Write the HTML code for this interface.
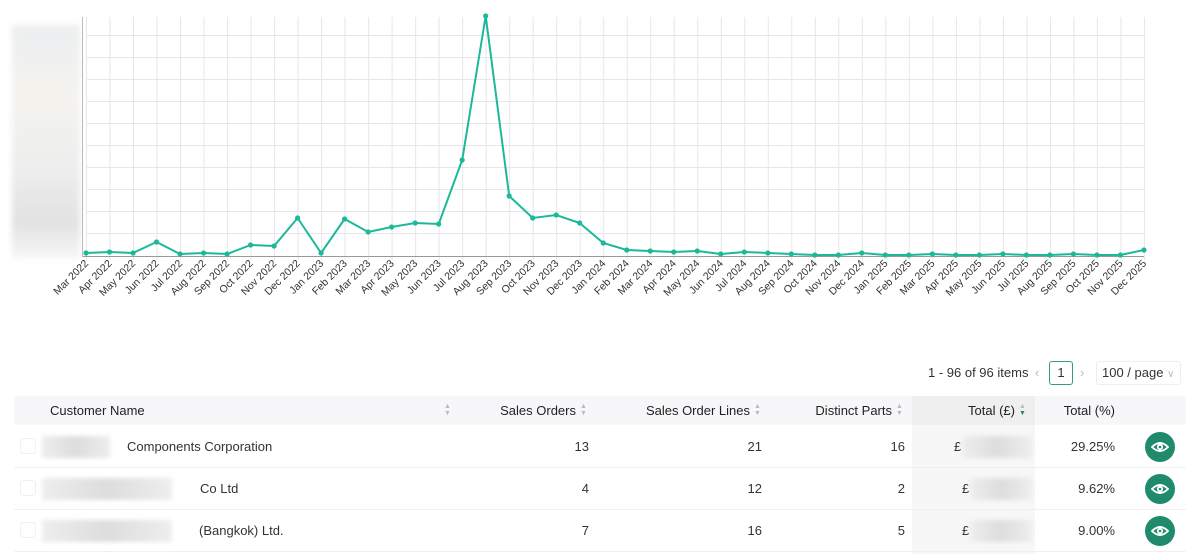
<!DOCTYPE html><html><head><style>
body{margin:0;width:1200px;height:554px;background:#fff;font-family:"Liberation Sans",sans-serif;position:relative;overflow:hidden;color:#333}
.a{position:absolute}
.h{font-size:13px;color:#222;top:396px;height:29px;line-height:29px}
.c{font-size:13px;color:#333}
.sort{position:absolute;width:8px;height:12px}
.blur{background:linear-gradient(90deg,#eee,#ddd 50%,#eee);filter:blur(2px);position:absolute;height:22px}
.eye{position:absolute;width:30px;height:30px;border-radius:50%;background:#1f8a6c;left:1145px}
</style></head><body>
<div class="a" style="left:12px;top:25px;width:68px;height:233px;background:linear-gradient(180deg,#eceef0,#f4f3ee 30%,#eeeeee 60%,#e2e2e2 85%,#f6f6f6);filter:blur(3px)"></div>
<svg class="a" style="left:0;top:0" width="1200" height="330">
<g stroke="#e6e6ec" stroke-width="1">
<line x1="86" x2="1144" y1="35.5" y2="35.5"/><line x1="86" x2="1144" y1="57.5" y2="57.5"/><line x1="86" x2="1144" y1="79.5" y2="79.5"/><line x1="86" x2="1144" y1="101.5" y2="101.5"/><line x1="86" x2="1144" y1="123.5" y2="123.5"/><line x1="86" x2="1144" y1="145.5" y2="145.5"/><line x1="86" x2="1144" y1="167.5" y2="167.5"/><line x1="86" x2="1144" y1="189.5" y2="189.5"/><line x1="86" x2="1144" y1="211.5" y2="211.5"/><line x1="86" x2="1144" y1="233.5" y2="233.5"/>
</g>
<g id="vg" stroke="#e6e6ec"></g>
<line x1="82" x2="1144" y1="256.5" y2="256.5" stroke="#999"/>
<line x1="82.5" x2="82.5" y1="17" y2="257" stroke="#bbb"/>
<polyline fill="none" stroke="#1bb99a" stroke-width="2" points="86,253 109.5,252 133,253 156.5,242 180,254 203.6,253 227.1,254 250.6,245 274.1,246 297.6,218 321.1,253 344.6,219 368.1,232 391.6,227 415.1,223 438.7,224 462.2,160 485.7,16 509.2,196 532.7,218 556.2,215 579.7,223 603.2,243 626.7,250 650.2,251 673.8,252 697.3,251 720.8,254 744.3,252 767.8,253 791.3,254 814.8,255 838.3,255 861.8,253 885.3,255 908.9,255 932.4,254 955.9,255 979.4,255 1002.9,254 1026.4,255 1049.9,255 1073.4,254 1096.9,255 1120.4,255 1144,250"/>
<g id="pts" fill="#1bb99a"></g>
<g id="lbl" font-size="10.5" fill="#333" text-anchor="end"></g>
</svg>
<script>
var m=["Jan","Feb","Mar","Apr","May","Jun","Jul","Aug","Sep","Oct","Nov","Dec"];
var ys=[253,252,253,242,254,253,254,245,246,218,253,219,232,227,223,224,160,16,196,218,215,223,243,250,251,252,251,254,252,253,254,255,255,253,255,255,254,255,255,254,255,255,254,255,255,250];
var vg="",p="",l="";
for(var i=0;i<46;i++){var x=86+i*23.51;var mi=(2+i)%12,yr=2022+Math.floor((2+i)/12);
vg+='<line x1="'+(x+.5)+'" x2="'+(x+.5)+'" y1="17" y2="260"/>';
p+='<circle cx="'+x+'" cy="'+ys[i]+'" r="2.6"/>';
l+='<text transform="translate('+(x+3)+',264) rotate(-45)">'+m[mi]+' '+yr+'</text>';}
document.getElementById("vg").innerHTML=vg;document.getElementById("pts").innerHTML=p;document.getElementById("lbl").innerHTML=l;
</script>
<div class="a c" style="left:928px;top:365px;line-height:16px">1 - 96 of 96 items</div>
<div class="a" style="left:1035px;top:365px;color:#bbb;font-size:13px">‹</div>
<div class="a" style="left:1049px;top:361px;width:22px;height:22px;border:1px solid #3a9a80;border-radius:3px;text-align:center;line-height:22px;font-size:13px">1</div>
<div class="a" style="left:1080px;top:365px;color:#bbb;font-size:13px">›</div>
<div class="a" style="left:1096px;top:361px;width:84px;height:22px;border:1px solid #eee;border-radius:3px;font-size:13px;line-height:22px;padding-left:5px;box-sizing:border-box;width:85px;height:24px">100 / page <span style="color:#bbb;font-size:10px">∨</span></div>
<div class="a" style="left:14px;top:396px;width:1172px;height:29px;background:#f7f7f9"></div>
<div class="a" style="left:912px;top:396px;width:123px;height:158px;background:#f7f7f7"></div>
<div class="a" style="left:912px;top:396px;width:123px;height:29px;background:#efefef"></div>
<div class="a h" style="left:50px">Customer Name</div>
<div class="a h" style="right:624px">Sales Orders</div>
<div class="a h" style="right:450px">Sales Order Lines</div>
<div class="a h" style="right:308px">Distinct Parts</div>
<div class="a h" style="right:185px">Total (£)</div>
<div class="a h" style="right:85px">Total (%)</div>
<div class="a" style="left:444px;top:403px;font-size:7px;line-height:7px;color:#bbb">▲<br>▼</div>
<div class="a" style="left:580px;top:403px;font-size:7px;line-height:7px;color:#bbb">▲<br>▼</div>
<div class="a" style="left:754px;top:403px;font-size:7px;line-height:7px;color:#bbb">▲<br>▼</div>
<div class="a" style="left:896px;top:403px;font-size:7px;line-height:7px;color:#bbb">▲<br>▼</div>
<div class="a" style="left:1019px;top:403px;font-size:7px;line-height:7px;color:#bbb">▲<br><span style="color:#1f8a6c">▼</span></div>
<div class="a" style="left:14px;top:467px;width:1172px;height:1px;background:#f0f0f0"></div>
<div class="a" style="left:14px;top:509px;width:1172px;height:1px;background:#f0f0f0"></div>
<div class="a" style="left:14px;top:551px;width:1172px;height:1px;background:#f0f0f0"></div>
<!-- rows -->
<div class="a" style="left:20px;top:438px;width:14px;height:14px;border:1px solid #f0f0f0;border-radius:3px"></div>
<div class="a" style="left:20px;top:480px;width:14px;height:14px;border:1px solid #f0f0f0;border-radius:3px"></div>
<div class="a" style="left:20px;top:522px;width:14px;height:14px;border:1px solid #f0f0f0;border-radius:3px"></div>
<div class="blur" style="left:42px;top:436px;width:68px"></div>
<div class="blur" style="left:42px;top:478px;width:130px"></div>
<div class="blur" style="left:42px;top:520px;width:130px"></div>
<div class="a c" style="left:127px;top:439px">Components Corporation</div>
<div class="a c" style="left:200px;top:481px">Co Ltd</div>
<div class="a c" style="left:199px;top:523px">(Bangkok) Ltd.</div>
<div class="a c" style="right:611px;top:439px">13</div><div class="a c" style="right:611px;top:481px">4</div><div class="a c" style="right:611px;top:523px">7</div>
<div class="a c" style="right:438px;top:439px">21</div><div class="a c" style="right:438px;top:481px">12</div><div class="a c" style="right:438px;top:523px">16</div>
<div class="a c" style="right:295px;top:439px">16</div><div class="a c" style="right:295px;top:481px">2</div><div class="a c" style="right:295px;top:523px">5</div>
<div class="a c" style="left:954px;top:439px">£</div><div class="a c" style="left:962px;top:481px">£</div><div class="a c" style="left:962px;top:523px">£</div>
<div class="blur" style="left:962px;top:436px;width:70px"></div>
<div class="blur" style="left:970px;top:478px;width:62px"></div>
<div class="blur" style="left:970px;top:520px;width:62px"></div>
<div class="a c" style="right:85px;top:439px">29.25%</div><div class="a c" style="right:85px;top:481px">9.62%</div><div class="a c" style="right:85px;top:523px">9.00%</div>
<div class="eye" style="top:432px"></div><div class="eye" style="top:474px"></div><div class="eye" style="top:516px"></div>
<svg class="a" style="left:0;top:0;pointer-events:none" width="1200" height="554"><g fill="none" stroke="#fff" stroke-width="1.8">
<path d="M1152 447 Q1160 439 1168 447 Q1160 455 1152 447Z"/><circle cx="1160" cy="447" r="2.2"/>
<path d="M1152 489 Q1160 481 1168 489 Q1160 497 1152 489Z"/><circle cx="1160" cy="489" r="2.2"/>
<path d="M1152 531 Q1160 523 1168 531 Q1160 539 1152 531Z"/><circle cx="1160" cy="531" r="2.2"/></g></svg>
</body></html>
